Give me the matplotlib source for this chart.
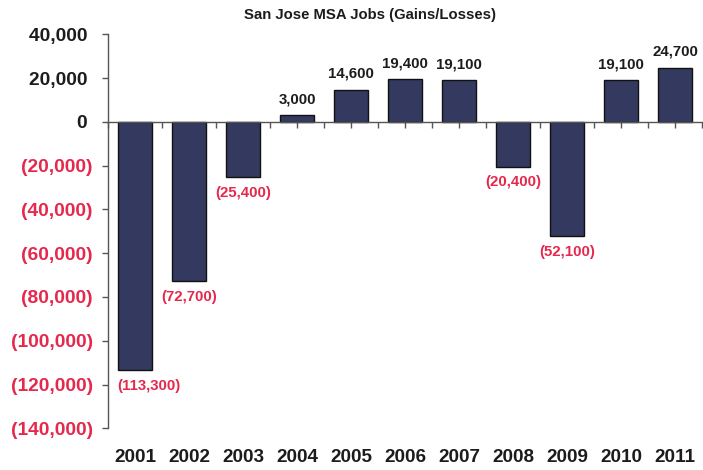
"""San Jose MSA jobs, yearly gains and losses, as an Excel-style bar chart."""

import matplotlib

matplotlib.use("Agg")

import matplotlib.pyplot as plt  # noqa: E402
from matplotlib.ticker import FixedLocator, FuncFormatter  # noqa: E402
import matplotlib.transforms as mtransforms  # noqa: E402

years = ["2001", "2002", "2003", "2004", "2005", "2006",
         "2007", "2008", "2009", "2010", "2011"]
jobs = [-113300, -72700, -25400, 3000, 14600, 19400,
        19100, -20400, -52100, 19100, 24700]
y_ticks = list(range(-140000, 40001, 20000))

RED = "#e5284c"
INK = "#1c1c1c"
BAR = "#33395f"
FONT = "Liberation Sans"


def _money(v):
    """Excel accounting style: negatives in parentheses, positives padded."""
    if v < 0:
        return f"({-v:,.0f})"
    return f"{v:,.0f} "


fig = plt.figure(figsize=(7.03, 4.70), dpi=100)
ax = fig.add_axes([108 / 703, 1 - 428.3 / 470, 594 / 703, (428.3 - 34.3) / 470])

x = list(range(len(years)))
ax.bar(x, jobs, width=0.64, color=BAR, edgecolor="#111111", linewidth=1.0, zorder=3)

ax.set_xlim(-0.5, len(years) - 0.5)
ax.set_ylim(-140000, 40000)

# spines: y on the left, x running through zero
for side in ("top", "right"):
    ax.spines[side].set_visible(False)
ax.spines["bottom"].set_position(("data", 0))
for side in ("left", "bottom"):
    ax.spines[side].set_color("#555555")
    ax.spines[side].set_linewidth(1.0)
    ax.spines[side].set_zorder(4)

ax.yaxis.set_major_locator(FixedLocator(y_ticks))
ax.yaxis.set_major_formatter(FuncFormatter(lambda v, _: _money(v)))
ax.tick_params(axis="y", direction="out", length=4.5, width=1.0, color="#555555",
               pad=6.5, labelsize=13.8)
for lab, v in zip(ax.get_yticklabels(), y_ticks):
    lab.set_fontweight("bold")
    lab.set_fontfamily(FONT)
    lab.set_color(RED if v < 0 else INK)

# category boundaries as major ticks, centres as minor ticks
ax.xaxis.set_major_locator(FixedLocator([i - 0.5 for i in range(len(years) + 1)]))
ax.xaxis.set_minor_locator(FixedLocator(x))
ax.tick_params(axis="x", which="both", direction="out", length=4.5, width=1.0,
               color="#555555", labelbottom=False)

# year labels sit at the bottom of the plot, not on the zero line
to_bottom = mtransforms.blended_transform_factory(ax.transData, fig.transFigure)
for xi, yr in zip(x, years):
    ax.text(xi, 1 - 458 / 470, yr, transform=to_bottom, ha="center", va="center",
            fontsize=13.6, fontweight="bold", color=INK, family=FONT)

# value labels
for xi, v in zip(x, jobs):
    if v < 0:
        dx = 10 if xi == 0 else 0
        ax.annotate(_money(v), (xi, v), xytext=(dx, -11.5), textcoords="offset points",
                    ha="center", va="center", fontsize=10.8, fontweight="bold",
                    color=RED, family=FONT)
    else:
        ax.annotate(f"{v:,.0f}", (xi, v), xytext=(0, 11.5), textcoords="offset points",
                    ha="center", va="center", fontsize=10.8, fontweight="bold",
                    color=INK, family=FONT)

fig.text(370 / 703, 1 - 15.5 / 470, "San Jose MSA Jobs (Gains/Losses)", ha="center",
         va="center", fontsize=10.7, fontweight="bold", color=INK, family=FONT)

fig.savefig("out.png", dpi=100)
